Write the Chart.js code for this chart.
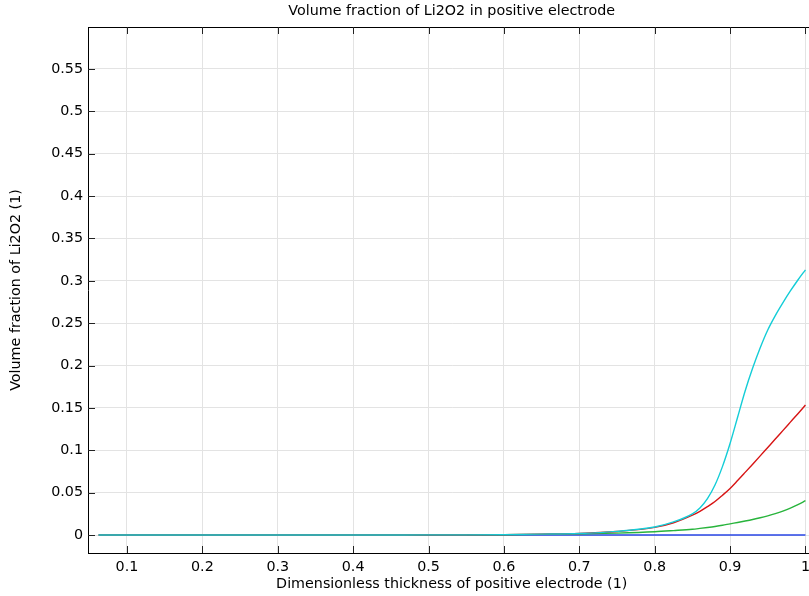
<!DOCTYPE html>
<html>
<head>
<meta charset="utf-8">
<script src="https://cdn.jsdelivr.net/npm/chart.js@4/dist/chart.umd.min.js"></script>
<style>
  html, body { margin: 0; padding: 0; overflow: hidden; background: #fff; }
</style>
</head>
<body>
<canvas id="li2o2Chart" width="816" height="596"></canvas>
<script>
const thickness = [0.0625, 0.1, 0.2, 0.3, 0.4, 0.5, 0.55, 0.6, 0.65, 0.7, 0.75, 0.8, 0.825, 0.85,
    0.86, 0.87, 0.88, 0.89, 0.9, 0.91, 0.92, 0.93, 0.94, 0.95, 0.96, 0.97, 0.98, 0.99, 1.0];

const fracCyan = [0, 0, 0, 0, 0, 0.0001, 0.0002, 0.0005, 0.001, 0.0018, 0.0043, 0.0095, 0.0155, 0.025,
    0.032, 0.043, 0.059, 0.081, 0.108, 0.139, 0.170, 0.197, 0.221, 0.242, 0.259, 0.274, 0.288, 0.301, 0.313];
const fracRed = [0, 0, 0, 0, 0, 0.0001, 0.0002, 0.0005, 0.001, 0.0018, 0.0042, 0.009, 0.0145, 0.0235,
    0.028, 0.0335, 0.0395, 0.047, 0.055, 0.0643, 0.0739, 0.0836, 0.0934, 0.1033, 0.1132, 0.1232, 0.1332, 0.1432, 0.1534];
const fracGreen = [0, 0, 0, 0, 0, 0.0001, 0.0001, 0.0003, 0.0007, 0.0013, 0.0022, 0.0038, 0.0052, 0.0068,
    0.0078, 0.0089, 0.0101, 0.0115, 0.0132, 0.0148, 0.0165, 0.0183, 0.0203, 0.0226, 0.0252, 0.0282, 0.0317, 0.0358, 0.0405];
const fracBlue = [0, 0, 0, 0, 0, 0, 0, 0, 0, 0, 0, 0, 0, 0,
    0, 0, 0, 0, 0, 0, 0, 0, 0, 0, 0, 0, 0, 0, 0];

const xTicks = [0.1, 0.2, 0.3, 0.4, 0.5, 0.6, 0.7, 0.8, 0.9, 1];
const yTicks = [0, 0.05, 0.1, 0.15, 0.2, 0.25, 0.3, 0.35, 0.4, 0.45, 0.5, 0.55];

function points(vals) {
    return thickness.map((x, i) => ({ x: x, y: vals[i] }));
}

function line(vals, color) {
    return {
        data: points(vals),
        borderColor: color,
        borderWidth: 1.4,
        pointRadius: 0,
        cubicInterpolationMode: "monotone",
        fill: false
    };
}

// ticks pointing into the plot, like the original
const innerTicks = {
    id: "innerTicks",
    afterDraw(chart) {
        const { ctx, chartArea, scales } = chart;
        ctx.save();
        ctx.strokeStyle = "#222";
        ctx.lineWidth = 1;
        ctx.beginPath();
        scales.x.ticks.forEach(t => {
            const px = Math.round(scales.x.getPixelForValue(t.value)) + 0.5;
            ctx.moveTo(px, chartArea.bottom);
            ctx.lineTo(px, chartArea.bottom - 7);
            ctx.moveTo(px, chartArea.top);
            ctx.lineTo(px, chartArea.top + 7);
        });
        scales.y.ticks.forEach(t => {
            const py = Math.round(scales.y.getPixelForValue(t.value)) + 0.5;
            ctx.moveTo(chartArea.left, py);
            ctx.lineTo(chartArea.left + 7, py);
        });
        ctx.stroke();
        ctx.restore();
    }
};

Chart.defaults.font.family = "'DejaVu Sans', sans-serif";
Chart.defaults.font.size = 14.3;
Chart.defaults.color = "#000";

new Chart(document.getElementById("li2o2Chart"), {
    type: "line",
    data: {
        datasets: [
            line(fracCyan, "rgb(20,205,215)"),
            line(fracRed, "rgb(215,20,20)"),
            line(fracGreen, "rgb(40,180,60)"),
            line(fracBlue, "rgb(40,70,230)")
        ]
    },
    options: {
        responsive: false,
        animation: false,
        layout: { padding: 0 },
        plugins: {
            legend: { display: false },
            tooltip: { enabled: false }
        },
        scales: {
            x: {
                type: "linear",
                position: "bottom",
                min: 0.0483,
                max: 1.0133,
                afterBuildTicks: s => { s.ticks = xTicks.map(v => ({ value: v })); },
                afterFit: s => { s.height = 43; },
                ticks: { padding: 6, maxRotation: 0, callback: v => String(v) },
                grid: { color: "#e3e3e3", drawTicks: false },
                border: { color: "#000", width: 1 },
                title: {
                    display: true,
                    text: "Dimensionless thickness of positive electrode (1)",
                    padding: { top: 0, bottom: 3 }
                }
            },
            xTop: {
                type: "linear",
                position: "top",
                min: 0.0483,
                max: 1.0133,
                afterFit: s => { s.height = 27; },
                ticks: { display: false },
                grid: { display: false },
                border: { color: "#000", width: 1 },
                title: {
                    display: true,
                    text: "Volume fraction of Li2O2 in positive electrode",
                    padding: { top: 3, bottom: 0 }
                }
            },
            y: {
                type: "linear",
                position: "left",
                min: -0.02124,
                max: 0.59957,
                afterBuildTicks: s => { s.ticks = yTicks.map(v => ({ value: v })); },
                afterFit: s => { s.width = 88; },
                ticks: { padding: 5, callback: v => String(v) },
                grid: { color: "#e3e3e3", drawTicks: false },
                border: { color: "#000", width: 1 },
                title: {
                    display: true,
                    text: "Volume fraction of Li2O2 (1)",
                    padding: { top: 8, bottom: 0 }
                }
            }
        }
    },
    plugins: [innerTicks]
});
</script>
</body>
</html>
